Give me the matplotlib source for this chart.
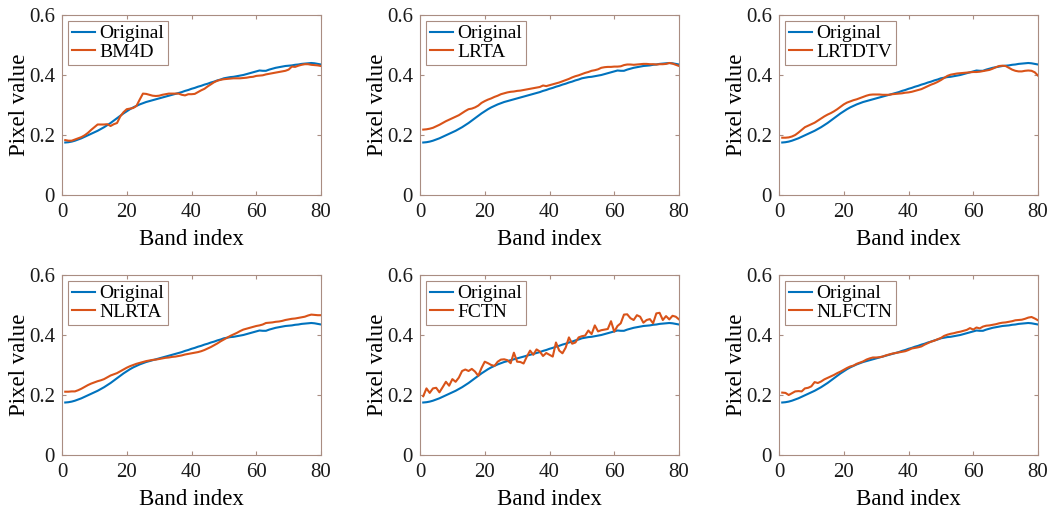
import matplotlib
matplotlib.use("Agg")
import matplotlib.pyplot as plt
import numpy as np
from matplotlib.ticker import FuncFormatter

plt.rcParams["font.family"] = ["Liberation Serif", "DejaVu Serif"]

bands = np.arange(1, 81)

original = [
    0.175, 0.176, 0.178, 0.181, 0.185, 0.189, 0.194, 0.199, 0.204, 0.209,
    0.214, 0.220, 0.226, 0.233, 0.240, 0.248, 0.256, 0.264, 0.272, 0.279,
    0.286, 0.292, 0.297, 0.302, 0.306, 0.310, 0.313, 0.316, 0.319, 0.322,
    0.325, 0.328, 0.331, 0.334, 0.337, 0.340, 0.343, 0.347, 0.350, 0.354,
    0.357, 0.361, 0.364, 0.368, 0.371, 0.375, 0.378, 0.382, 0.385, 0.389,
    0.391, 0.393, 0.394, 0.396, 0.398, 0.400, 0.403, 0.406, 0.409, 0.412,
    0.415, 0.414, 0.414, 0.418, 0.421, 0.424, 0.426, 0.428, 0.430, 0.431,
    0.432, 0.434, 0.435, 0.437, 0.438, 0.439, 0.440, 0.439, 0.437, 0.435]

bm4d = [
    0.183, 0.181, 0.181, 0.185, 0.189, 0.193, 0.199, 0.207, 0.217, 0.226,
    0.235, 0.235, 0.235, 0.236, 0.230, 0.236, 0.240, 0.262, 0.276, 0.286,
    0.288, 0.290, 0.297, 0.318, 0.338, 0.337, 0.334, 0.331, 0.330, 0.331,
    0.334, 0.336, 0.338, 0.338, 0.338, 0.338, 0.334, 0.332, 0.336, 0.336,
    0.337, 0.343, 0.349, 0.354, 0.362, 0.369, 0.376, 0.381, 0.384, 0.386,
    0.387, 0.388, 0.389, 0.389, 0.389, 0.390, 0.391, 0.393, 0.394, 0.397,
    0.398, 0.399, 0.402, 0.404, 0.406, 0.408, 0.410, 0.412, 0.414, 0.418,
    0.428, 0.427, 0.431, 0.434, 0.436, 0.436, 0.434, 0.433, 0.432, 0.430]

lrta = [
    0.218, 0.219, 0.221, 0.224, 0.229, 0.234, 0.240, 0.246, 0.251, 0.256,
    0.261, 0.266, 0.273, 0.280, 0.286, 0.288, 0.292, 0.298, 0.307, 0.313,
    0.318, 0.322, 0.327, 0.331, 0.336, 0.339, 0.342, 0.344, 0.345, 0.347,
    0.348, 0.350, 0.352, 0.354, 0.356, 0.358, 0.360, 0.365, 0.363, 0.366,
    0.369, 0.372, 0.375, 0.379, 0.383, 0.387, 0.392, 0.396, 0.399, 0.403,
    0.407, 0.410, 0.414, 0.416, 0.419, 0.424, 0.426, 0.427, 0.427, 0.428,
    0.428, 0.429, 0.433, 0.435, 0.435, 0.434, 0.435, 0.436, 0.437, 0.437,
    0.436, 0.436, 0.435, 0.436, 0.436, 0.437, 0.440, 0.438, 0.434, 0.430]

lrtdtv = [
    0.191, 0.191, 0.192, 0.195, 0.200, 0.208, 0.217, 0.226, 0.231, 0.236,
    0.241, 0.248, 0.255, 0.262, 0.268, 0.273, 0.279, 0.286, 0.294, 0.302,
    0.308, 0.312, 0.316, 0.319, 0.323, 0.327, 0.331, 0.334, 0.335, 0.335,
    0.335, 0.334, 0.334, 0.334, 0.336, 0.337, 0.338, 0.339, 0.341, 0.342,
    0.344, 0.347, 0.350, 0.353, 0.358, 0.363, 0.368, 0.372, 0.377, 0.383,
    0.390, 0.397, 0.401, 0.403, 0.405, 0.406, 0.407, 0.408, 0.409, 0.410,
    0.410, 0.411, 0.413, 0.415, 0.417, 0.421, 0.426, 0.430, 0.431, 0.430,
    0.424, 0.418, 0.414, 0.412, 0.412, 0.414, 0.415, 0.414, 0.409, 0.398]

nlrta = [
    0.211, 0.211, 0.212, 0.212, 0.216, 0.221, 0.227, 0.233, 0.238, 0.242,
    0.246, 0.249, 0.253, 0.259, 0.265, 0.269, 0.273, 0.279, 0.285, 0.291,
    0.296, 0.300, 0.304, 0.307, 0.310, 0.313, 0.315, 0.317, 0.318, 0.320,
    0.322, 0.324, 0.325, 0.327, 0.328, 0.330, 0.332, 0.335, 0.337, 0.339,
    0.341, 0.343, 0.346, 0.350, 0.355, 0.360, 0.366, 0.372, 0.379, 0.385,
    0.391, 0.397, 0.402, 0.407, 0.413, 0.418, 0.421, 0.424, 0.427, 0.430,
    0.432, 0.435, 0.440, 0.441, 0.442, 0.444, 0.445, 0.447, 0.450, 0.452,
    0.454, 0.455, 0.457, 0.459, 0.461, 0.465, 0.468, 0.467, 0.466, 0.466]

fctn = [
    0.196, 0.222, 0.207, 0.222, 0.224, 0.209, 0.226, 0.244, 0.231, 0.253,
    0.244, 0.258, 0.280, 0.285, 0.280, 0.287, 0.278, 0.264, 0.290, 0.311,
    0.306, 0.300, 0.297, 0.311, 0.318, 0.319, 0.316, 0.306, 0.341, 0.311,
    0.310, 0.305, 0.328, 0.348, 0.334, 0.352, 0.345, 0.330, 0.340, 0.334,
    0.328, 0.375, 0.348, 0.339, 0.358, 0.392, 0.371, 0.375, 0.392, 0.396,
    0.398, 0.415, 0.403, 0.432, 0.412, 0.416, 0.418, 0.420, 0.446, 0.411,
    0.430, 0.439, 0.468, 0.469, 0.456, 0.450, 0.466, 0.461, 0.441, 0.450,
    0.453, 0.439, 0.472, 0.474, 0.450, 0.463, 0.452, 0.464, 0.461, 0.452]

nlfctn = [
    0.208, 0.207, 0.200, 0.206, 0.212, 0.213, 0.212, 0.222, 0.224, 0.229,
    0.243, 0.240, 0.245, 0.252, 0.257, 0.262, 0.267, 0.273, 0.278, 0.284,
    0.290, 0.295, 0.298, 0.304, 0.308, 0.312, 0.318, 0.322, 0.325, 0.325,
    0.326, 0.328, 0.332, 0.335, 0.338, 0.340, 0.342, 0.344, 0.346, 0.350,
    0.355, 0.357, 0.359, 0.362, 0.368, 0.373, 0.378, 0.381, 0.386, 0.390,
    0.397, 0.401, 0.404, 0.406, 0.409, 0.411, 0.414, 0.417, 0.423, 0.418,
    0.425, 0.422, 0.428, 0.431, 0.432, 0.434, 0.436, 0.439, 0.441, 0.442,
    0.444, 0.446, 0.449, 0.450, 0.451, 0.454, 0.458, 0.460, 0.455, 0.449]

methods = ["BM4D", "LRTA", "LRTDTV", "NLRTA", "FCTN", "NLFCTN"]
results = [bm4d, lrta, lrtdtv, nlrta, fctn, nlfctn]

blue = "#0072BD"
orange = "#D95319"
frame = "#a98d82"

fig = plt.figure(figsize=(10.54, 5.14), dpi=100)
W, H = 1054, 514
lefts = [62, 420, 779]
tops = [15, 275]
aw, ah = 259, 180

for i, (name, vals) in enumerate(zip(methods, results)):
    r, c = divmod(i, 3)
    ax = fig.add_axes([lefts[c] / W, 1 - (tops[r] + ah) / H, aw / W, ah / H])
    ax.plot(bands, original, color=blue, lw=1.5, label="Original")
    ax.plot(bands, vals, color=orange, lw=1.5, label=name)
    ax.set_xlim(0, 80)
    ax.set_ylim(0, 0.6)
    ax.set_xticks([0, 20, 40, 60, 80])
    ax.set_yticks([0, 0.2, 0.4, 0.6])
    ax.yaxis.set_major_formatter(FuncFormatter(lambda v, p: f"{v:g}"))
    ax.tick_params(direction="in", top=True, right=True, length=3, width=0.8,
                   color=frame, labelsize=15, labelcolor="#1a1a1a")
    ax.tick_params(axis="x", pad=6)
    ax.tick_params(axis="y", pad=5)
    for s in ax.spines.values():
        s.set_color(frame)
        s.set_linewidth(0.8)
    ax.set_xlabel("Band index", fontsize=16.5, labelpad=5)
    ax.set_ylabel("Pixel value", fontsize=16.5, labelpad=-1)
    leg = ax.legend(loc="upper left", fontsize=14, fancybox=False, framealpha=1,
                    edgecolor=frame, handlelength=1.2, handletextpad=0.2,
                    borderpad=0.2, labelspacing=0.05, borderaxespad=0.3)
    leg.get_frame().set_linewidth(0.8)

fig.savefig("out.png", dpi=100)
